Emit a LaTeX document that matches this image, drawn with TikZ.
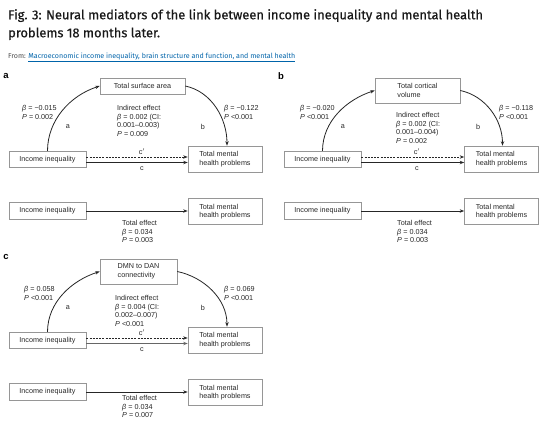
\documentclass[tikz,border=0pt]{standalone}
\usepackage{fontspec}
\setmainfont{Liberation Sans}
\newfontfamily\titlefont[FakeBold=0.5]{Fira Sans}
\newfontfamily\fromfont{Fira Sans}
\usetikzlibrary{arrows.meta}
\definecolor{linkblue}{RGB}{0,100,170}
\definecolor{boxgray}{RGB}{150,150,150}
\definecolor{txt}{RGB}{40,40,40}
\newcommand\dfont{\fontsize{7.2}{8.6}\selectfont}
\tikzset{
  box/.style={draw=boxgray, line width=0.6pt, fill=white, font=\dfont, text=txt, align=left, inner sep=0pt},
  iibox/.style={box, minimum width=77pt, minimum height=16.5pt},
  tmbox/.style={box, minimum width=74pt, minimum height=26pt},
  medbox/.style={box, minimum width=#1, minimum height=25pt},
  lab/.style={font=\dfont, text=txt, align=left, inner sep=0pt, anchor=north west},
  letter/.style={font=\dfont, text=txt, inner sep=0pt},
  arr/.style={-{Stealth[length=4.5pt,width=3.4pt]}, line width=0.8pt, draw=black!85},
  panellab/.style={font=\fontsize{9.5}{10}\selectfont\bfseries, inner sep=0pt}
}
\begin{document}
\begin{tikzpicture}[x=1pt,y=-1pt]
\useasboundingbox[fill=white] (0,0) rectangle (547,421);
% title
\node[anchor=north west, inner sep=0pt, align=left, font=\titlefont\fontsize{12.9}{18}\selectfont, text=black!90] (title) at (8,9)
  {Fig. 3: Neural mediators of the link between income inequality and mental health\\problems 18 months later.};
\node[anchor=north west, inner sep=0pt, font=\fromfont\fontsize{7.1}{9}\selectfont] (from) at (8,53)
  {\textcolor{black!70}{From:} \textcolor{linkblue}{\underline{Macroeconomic income inequality, brain structure and function, and mental health}}};

% ---------------- panel a
\begin{scope}[name prefix=a-]
\node[panellab] (lbl) at (6,76) {a};
\node[box, minimum width=85pt, minimum height=16pt] (med) at (142.5,86) {Total surface area};
\node[iibox] (ii) at (47.5,159.5) {Income inequality};
\node[tmbox] (tm) at (225,159) {Total mental\\health problems};
\node[iibox] (ii2) at (47.5,211) {Income inequality};
\node[tmbox] (tm2) at (225,211.5) {Total mental\\health problems};
\draw[arr] (ii.north) to[out=90,in=198,looseness=0.95] (med.west);
\draw[arr] (med.east) to[out=-12,in=90,looseness=0.95] ([xshift=2pt]tm.north);
\draw[arr, dashed, dash pattern=on 2pt off 1.2pt] ([yshift=2.5pt]ii.east) -- ([yshift=2.5pt]ii.east -| tm.west);
\draw[arr, line width=1pt] ([yshift=-3pt]ii.east) -- ([yshift=-3pt]ii.east -| tm.west);
\draw[arr] (ii2.east) -- (ii2.east -| tm2.west);
\node[lab] (bl) at (22,105) {\textit{β} = −0.015\\\textit{P} = 0.002};
\node[lab] (br) at (224,105) {\textit{β} = −0.122\\\textit{P} <0.001};
\node[lab] (ind) at (117,105) {Indirect effect\\\textit{β} = 0.002 (CI:\\0.001–0.003)\\\textit{P} = 0.009};
\node[letter] (la) at (68,127) {a};
\node[letter] (lb) at (203,127) {b};
\node[letter] (lcp) at (142,152) {c$'$};
\node[letter] (lc) at (142,169) {c};
\node[lab] (tot) at (122,220) {Total effect\\\textit{β} = 0.034\\\textit{P} = 0.003};
\end{scope}

% ---------------- panel b
\begin{scope}[shift={(275,0)}, name prefix=b-]
\node[panellab] (lbl) at (6,76) {b};
\node[medbox=85pt] (med) at (142.5,90.5) {Total cortical\\volume};
\node[iibox] (ii) at (47.5,159.5) {Income inequality};
\node[tmbox] (tm) at (226.5,159) {Total mental\\health problems};
\node[iibox] (ii2) at (47.5,211) {Income inequality};
\node[tmbox] (tm2) at (226.5,211.5) {Total mental\\health problems};
\draw[arr] (ii.north) to[out=90,in=198,looseness=0.95] (med.west);
\draw[arr] (med.east) to[out=-12,in=90,looseness=0.95] ([xshift=1pt]tm.north);
\draw[arr, dashed, dash pattern=on 2pt off 1.2pt] ([yshift=2.5pt]ii.east) -- ([yshift=2.5pt]ii.east -| tm.west);
\draw[arr, line width=1pt] ([yshift=-3pt]ii.east) -- ([yshift=-3pt]ii.east -| tm.west);
\draw[arr] (ii2.east) -- (ii2.east -| tm2.west);
\node[lab] (bl) at (25,105) {\textit{β} = −0.020\\\textit{P} <0.001};
\node[lab] (br) at (224,105) {\textit{β} = −0.118\\\textit{P} <0.001};
\node[lab] (ind) at (121,112) {Indirect effect\\\textit{β} = 0.002 (CI:\\0.001–0.004)\\\textit{P} = 0.002};
\node[letter] (la) at (68,127) {a};
\node[letter] (lb) at (203,127) {b};
\node[letter] (lcp) at (142,152) {c$'$};
\node[letter] (lc) at (142,169) {c};
\node[lab] (tot) at (122,220) {Total effect\\\textit{β} = 0.034\\\textit{P} = 0.003};
\end{scope}

% ---------------- panel c
\begin{scope}[shift={(0,181)}, name prefix=c-]
\node[panellab] (lbl) at (6,76) {c};
\node[medbox=77pt] (med) at (138.5,90.5) {DMN to DAN\\connectivity};
\node[iibox] (ii) at (47.5,159.5) {Income inequality};
\node[tmbox] (tm) at (225,159) {Total mental\\health problems};
\node[iibox] (ii2) at (47.5,211) {Income inequality};
\node[tmbox] (tm2) at (225,211.5) {Total mental\\health problems};
\draw[arr] (ii.north) to[out=90,in=198,looseness=0.95] (med.west);
\draw[arr] (med.east) to[out=-12,in=90,looseness=0.95] ([xshift=2pt]tm.north);
\draw[arr, dashed, dash pattern=on 2pt off 1.2pt] ([yshift=2.5pt]ii.east) -- ([yshift=2.5pt]ii.east -| tm.west);
\draw[arr, line width=1.6pt, draw=black!60] ([yshift=-3pt]ii.east) -- ([yshift=-3pt]ii.east -| tm.west);
\draw[arr] (ii2.east) -- (ii2.east -| tm2.west);
\node[lab] (bl) at (24,105) {\textit{β} = 0.058\\\textit{P} <0.001};
\node[lab] (br) at (224,105) {\textit{β} = 0.069\\\textit{P} <0.001};
\node[lab] (ind) at (115,114) {Indirect effect\\\textit{β} = 0.004 (CI:\\0.002–0.007)\\\textit{P} <0.001};
\node[letter] (la) at (68,127) {a};
\node[letter] (lb) at (203,127) {b};
\node[letter] (lcp) at (142,152) {c$'$};
\node[letter] (lc) at (142,169) {c};
\node[lab] (tot) at (122,214) {Total effect\\\textit{β} = 0.034\\\textit{P} = 0.007};
\end{scope}
\end{tikzpicture}
\end{document}
